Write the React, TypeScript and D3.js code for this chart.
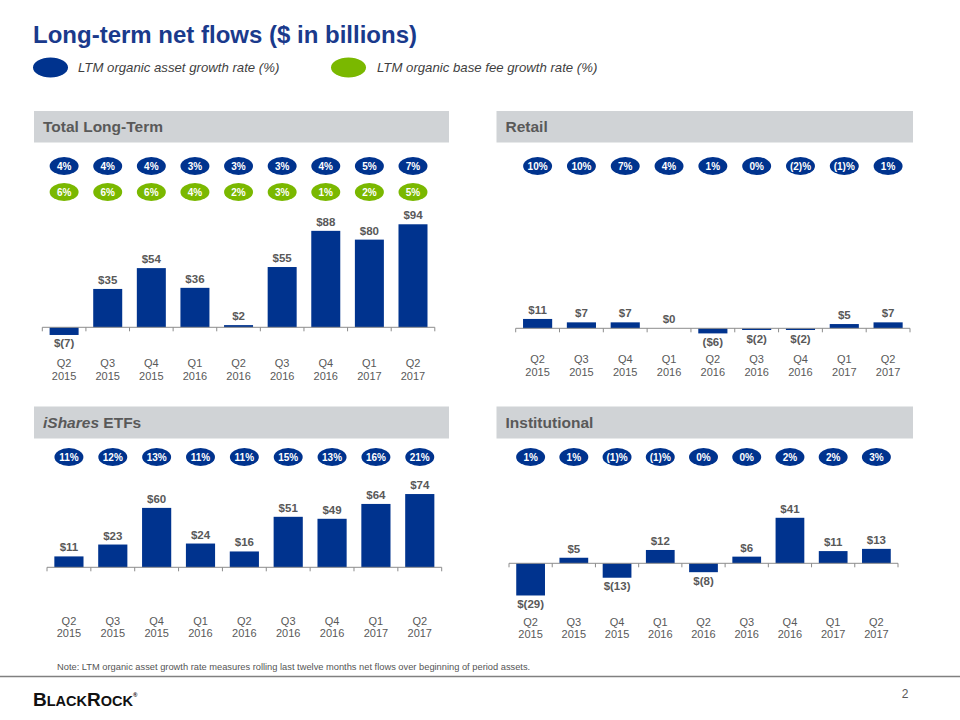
import React from "react";
import * as d3 from "d3";

const categories = ["Q2 2015", "Q3 2015", "Q4 2015", "Q1 2016", "Q2 2016", "Q3 2016", "Q4 2016", "Q1 2017", "Q2 2017"];

const totalValues = [-7, 35, 54, 36, 2, 55, 88, 80, 94];
const totalLabels = ["$(7)", "$35", "$54", "$36", "$2", "$55", "$88", "$80", "$94"];
const totalAssetGrowth = ["4%", "4%", "4%", "3%", "3%", "3%", "4%", "5%", "7%"];
const totalFeeGrowth = ["6%", "6%", "6%", "4%", "2%", "3%", "1%", "2%", "5%"];

const retailValues = [11, 7, 7, 0, -6, -2, -2, 5, 7];
const retailLabels = ["$11", "$7", "$7", "$0", "($6)", "$(2)", "$(2)", "$5", "$7"];
const retailAssetGrowth = ["10%", "10%", "7%", "4%", "1%", "0%", "(2)%", "(1)%", "1%"];

const isharesValues = [11, 23, 60, 24, 16, 51, 49, 64, 74];
const isharesLabels = ["$11", "$23", "$60", "$24", "$16", "$51", "$49", "$64", "$74"];
const isharesAssetGrowth = ["11%", "12%", "13%", "11%", "11%", "15%", "13%", "16%", "21%"];

const instValues = [-29, 5, -13, 12, -8, 6, 41, 11, 13];
const instLabels = ["$(29)", "$5", "$(13)", "$12", "$(8)", "$6", "$41", "$11", "$13"];
const instAssetGrowth = ["1%", "1%", "(1)%", "(1)%", "0%", "0%", "2%", "2%", "3%"];

const BLUE = "#00338e";
const GREEN = "#7ab800";
const GRAY_TEXT = "#595959";
const HEADER_BG = "#d0d3d6";
const FONT = "'Liberation Sans', Arial, Helvetica, sans-serif";

type Panel = {
  title: React.ReactNode;
  hx: number; hy: number; hw: number; hh: number;
  x0: number; x1: number; axisY: number; k: number;
  values: number[]; labels: string[];
  pills: { texts: string[]; color: string; y: number }[];
  catY: [number, number];
};

const panels: Panel[] = [
  {
    title: "Total Long-Term",
    hx: 34, hy: 111, hw: 415, hh: 31.5,
    x0: 42.3, x1: 434.8, axisY: 327.3, k: 1.096,
    values: totalValues, labels: totalLabels,
    pills: [
      { texts: totalAssetGrowth, color: BLUE, y: 166 },
      { texts: totalFeeGrowth, color: GREEN, y: 192 },
    ],
    catY: [367, 379.5],
  },
  {
    title: "Retail",
    hx: 496.5, hy: 111, hw: 416.5, hh: 31.5,
    x0: 515.7, x1: 910, axisY: 328.3, k: 0.85,
    values: retailValues, labels: retailLabels,
    pills: [{ texts: retailAssetGrowth, color: BLUE, y: 166 }],
    catY: [363, 375.5],
  },
  {
    title: (
      <>
        <tspan fontStyle="italic">iShares</tspan> ETFs
      </>
    ),
    hx: 34, hy: 406.5, hw: 415, hh: 32,
    x0: 47, x1: 441.7, axisY: 567.3, k: 0.99,
    values: isharesValues, labels: isharesLabels,
    pills: [{ texts: isharesAssetGrowth, color: BLUE, y: 457 }],
    catY: [625, 637],
  },
  {
    title: "Institutional",
    hx: 496.5, hy: 406.5, hw: 416.5, hh: 32,
    x0: 509, x1: 898, axisY: 563.3, k: 1.11,
    values: instValues, labels: instLabels,
    pills: [{ texts: instAssetGrowth, color: BLUE, y: 457 }],
    catY: [626, 637.5],
  },
];

function PanelView({ p }: { p: Panel }) {
  const x = d3.scaleBand<string>().domain(categories).range([p.x0, p.x1]).paddingInner(0.335).paddingOuter(0.1675);
  const y = d3.scaleLinear().domain([0, 100]).range([p.axisY, p.axisY - 100 * p.k]);
  const step = x.step();
  const bw = x.bandwidth();
  const ticks = d3.range(categories.length + 1).map((i) => p.x0 + i * step);
  return (
    <g>
      <rect x={p.hx} y={p.hy} width={p.hw} height={p.hh} fill={HEADER_BG} />
      <text x={p.hx + 9} y={p.hy + p.hh / 2 + 5.5} fontSize={15.5} fontWeight="bold" fill={GRAY_TEXT} fontFamily={FONT}>
        {p.title}
      </text>
      {p.pills.map((row, ri) => (
        <g key={ri}>
          {row.texts.map((t, i) => {
            const cx = (x(categories[i]) as number) + bw / 2;
            return (
              <g key={i}>
                <ellipse cx={cx} cy={row.y} rx={14.5} ry={9} fill={row.color} />
                <text x={cx} y={row.y + 3.6} textAnchor="middle" fontSize={10} fontWeight="bold" fill="#ffffff" fontFamily={FONT}>
                  {t}
                </text>
              </g>
            );
          })}
        </g>
      ))}
      {p.values.map((v, i) => {
        const bx = x(categories[i]) as number;
        const top = Math.min(y(v), y(0));
        const h = Math.abs(y(v) - y(0));
        return <rect key={i} x={bx} y={top} width={bw} height={h} fill={BLUE} />;
      })}
      <line x1={p.x0} x2={p.x1} y1={p.axisY} y2={p.axisY} stroke="#8c8c8c" strokeWidth={1} />
      {ticks.map((t, i) => (
        <line key={i} x1={t} x2={t} y1={p.axisY} y2={p.axisY + 4} stroke="#8c8c8c" strokeWidth={1} />
      ))}
      {p.values.map((v, i) => {
        const cx = (x(categories[i]) as number) + bw / 2;
        const ly = v >= 0 ? y(v) - 5 : y(v) + 12.5;
        return (
          <text key={i} x={cx} y={ly} textAnchor="middle" fontSize={11.5} fontWeight="bold" fill={GRAY_TEXT} fontFamily={FONT}>
            {p.labels[i]}
          </text>
        );
      })}
      {categories.map((c, i) => {
        const cx = (x(c) as number) + bw / 2;
        const [q, yr] = c.split(" ");
        return (
          <g key={c}>
            <text x={cx} y={p.catY[0]} textAnchor="middle" fontSize={11} fill={GRAY_TEXT} fontFamily={FONT}>{q}</text>
            <text x={cx} y={p.catY[1]} textAnchor="middle" fontSize={11} fill={GRAY_TEXT} fontFamily={FONT}>{yr}</text>
          </g>
        );
      })}
    </g>
  );
}

export default function App() {
  return (
    <svg width={960} height={720} style={{ position: "absolute", left: 0, top: 0, background: "#ffffff" }} fontFamily={FONT}>
      <rect x={0} y={0} width={960} height={720} fill="#ffffff" />
      <text x={33} y={43} fontSize={24} fontWeight="bold" fill="#1a3a8c">Long-term net flows ($ in billions)</text>
      <ellipse cx={50.5} cy={67.5} rx={17.5} ry={10} fill={BLUE} />
      <text x={78} y={72} fontSize={13.2} fontStyle="italic" fill="#3f3f3f">LTM organic asset growth rate (%)</text>
      <ellipse cx={348.5} cy={67.5} rx={17.5} ry={10} fill={GREEN} />
      <text x={377} y={72} fontSize={13.2} fontStyle="italic" fill="#3f3f3f">LTM organic base fee growth rate (%)</text>
      {panels.map((p, i) => (
        <PanelView key={i} p={p} />
      ))}
      <text x={57} y={670} fontSize={9.3} fill="#555555">
        Note: LTM organic asset growth rate measures rolling last twelve months net flows over beginning of period assets.
      </text>
      <line x1={0} x2={960} y1={676.5} y2={676.5} stroke="#808080" strokeWidth={1.5} />
      <text x={33} y={706} fill="#111111" fontWeight="bold">
        <tspan fontSize={19}>B</tspan>
        <tspan fontSize={14.5}>LACK</tspan>
        <tspan fontSize={19}>R</tspan>
        <tspan fontSize={14.5}>OCK</tspan>
        <tspan fontSize={6} dy={-9}>®</tspan>
      </text>
      <text x={905} y={698} fontSize={12} fill={GRAY_TEXT} textAnchor="middle">2</text>
    </svg>
  );
}
